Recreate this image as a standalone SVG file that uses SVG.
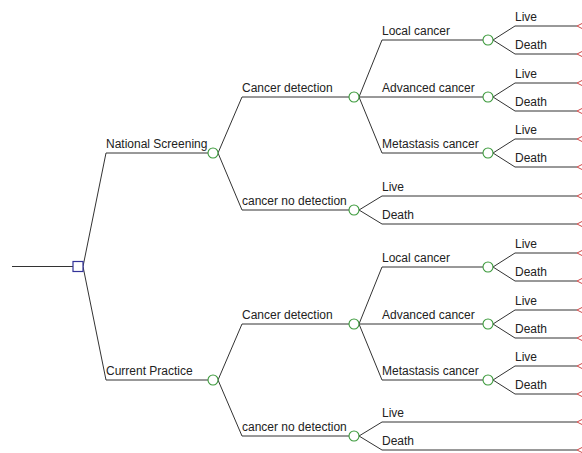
<svg xmlns="http://www.w3.org/2000/svg" width="582" height="453" viewBox="0 0 582 453">
<style>
.ln{fill:none;stroke:#333;stroke-width:1}
.dec{fill:#fff;stroke:#333399;stroke-width:1.2}
.ch{fill:#fff;stroke:#3c9a3c;stroke-width:1.1}
.tm{fill:#fff;stroke:#d04848;stroke-width:1}
text{font-family:"Liberation Sans",Arial,sans-serif;font-size:12px;fill:#222}
</style>
<rect width="582" height="453" fill="#fff"/>
<g id="connectors">
<line class="ln" x1="12" y1="266.5" x2="73" y2="266.5"/>
<polyline class="ln" points="83,266.5 106,153 208,153"/>
<polyline class="ln" points="83,266.5 106,380 208,380"/>
<polyline class="ln" points="218,153 242,97 349,97"/>
<polyline class="ln" points="218,153 242,210 349,210"/>
<polyline class="ln" points="218,380 242,324 349,324"/>
<polyline class="ln" points="218,380 242,436 349,436"/>
<polyline class="ln" points="359,97 382,40 483,40"/>
<polyline class="ln" points="359,97 382,97 483,97"/>
<polyline class="ln" points="359,97 382,153 483,153"/>
<polyline class="ln" points="359,210 382,196 577,196"/>
<polyline class="ln" points="359,210 382,224 577,224"/>
<polyline class="ln" points="359,324 382,267 483,267"/>
<polyline class="ln" points="359,324 382,324 483,324"/>
<polyline class="ln" points="359,324 382,380 483,380"/>
<polyline class="ln" points="359,436 382,422 577,422"/>
<polyline class="ln" points="359,436 382,450 577,450"/>
<polyline class="ln" points="493,40 515,26 577,26"/>
<polyline class="ln" points="493,40 515,54 577,54"/>
<polyline class="ln" points="493,97 515,83 577,83"/>
<polyline class="ln" points="493,97 515,111 577,111"/>
<polyline class="ln" points="493,153 515,139 577,139"/>
<polyline class="ln" points="493,153 515,167 577,167"/>
<polyline class="ln" points="493,267 515,253 577,253"/>
<polyline class="ln" points="493,267 515,281 577,281"/>
<polyline class="ln" points="493,324 515,310 577,310"/>
<polyline class="ln" points="493,324 515,338 577,338"/>
<polyline class="ln" points="493,380 515,366 577,366"/>
<polyline class="ln" points="493,380 515,394 577,394"/>
</g>
<g id="root"><rect class="dec" x="73" y="261.5" width="10" height="10"/></g>
<g id="national-screening"><text x="106" y="148">National Screening</text><circle class="ch" cx="213" cy="153" r="5"/></g>
<g id="current-practice"><text x="106" y="375">Current Practice</text><circle class="ch" cx="213" cy="380" r="5"/></g>
<g id="ns-cancer-detection"><text x="242" y="92">Cancer detection</text><circle class="ch" cx="354" cy="97" r="5"/></g>
<g id="ns-no-detection"><text x="242" y="205">cancer no detection</text><circle class="ch" cx="354" cy="210" r="5"/></g>
<g id="cp-cancer-detection"><text x="242" y="319">Cancer detection</text><circle class="ch" cx="354" cy="324" r="5"/></g>
<g id="cp-no-detection"><text x="242" y="431">cancer no detection</text><circle class="ch" cx="354" cy="436" r="5"/></g>
<g id="ns-local"><text x="382" y="35">Local cancer</text><circle class="ch" cx="488" cy="40" r="5"/></g>
<g id="ns-advanced"><text x="382" y="92">Advanced cancer</text><circle class="ch" cx="488" cy="97" r="5"/></g>
<g id="ns-metastasis"><text x="382" y="148">Metastasis cancer</text><circle class="ch" cx="488" cy="153" r="5"/></g>
<g id="cp-local"><text x="382" y="262">Local cancer</text><circle class="ch" cx="488" cy="267" r="5"/></g>
<g id="cp-advanced"><text x="382" y="319">Advanced cancer</text><circle class="ch" cx="488" cy="324" r="5"/></g>
<g id="cp-metastasis"><text x="382" y="375">Metastasis cancer</text><circle class="ch" cx="488" cy="380" r="5"/></g>
<g id="terminals">
<text x="515" y="21">Live</text><polygon class="tm" points="577,26 585,22 585,30"/>
<text x="515" y="49">Death</text><polygon class="tm" points="577,54 585,50 585,58"/>
<text x="515" y="78">Live</text><polygon class="tm" points="577,83 585,79 585,87"/>
<text x="515" y="106">Death</text><polygon class="tm" points="577,111 585,107 585,115"/>
<text x="515" y="134">Live</text><polygon class="tm" points="577,139 585,135 585,143"/>
<text x="515" y="162">Death</text><polygon class="tm" points="577,167 585,163 585,171"/>
<text x="382" y="191">Live</text><polygon class="tm" points="577,196 585,192 585,200"/>
<text x="382" y="219">Death</text><polygon class="tm" points="577,224 585,220 585,228"/>
<text x="515" y="248">Live</text><polygon class="tm" points="577,253 585,249 585,257"/>
<text x="515" y="276">Death</text><polygon class="tm" points="577,281 585,277 585,285"/>
<text x="515" y="305">Live</text><polygon class="tm" points="577,310 585,306 585,314"/>
<text x="515" y="333">Death</text><polygon class="tm" points="577,338 585,334 585,342"/>
<text x="515" y="361">Live</text><polygon class="tm" points="577,366 585,362 585,370"/>
<text x="515" y="389">Death</text><polygon class="tm" points="577,394 585,390 585,398"/>
<text x="382" y="417">Live</text><polygon class="tm" points="577,422 585,418 585,426"/>
<text x="382" y="445">Death</text><polygon class="tm" points="577,450 585,446 585,454"/>
</g>
</svg>
